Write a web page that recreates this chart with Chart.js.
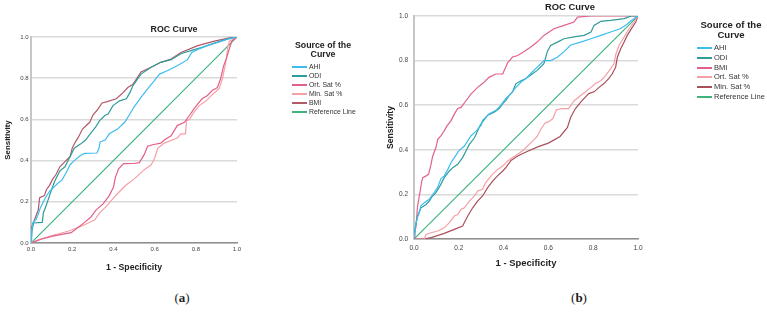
<!DOCTYPE html>
<html>
<head>
<meta charset="utf-8">
<script src="https://cdn.jsdelivr.net/npm/chart.js@4.4.1/dist/chart.umd.min.js"></script>
<style>
  body { margin: 0; background: #fff; }
  #page { position: relative; width: 767px; height: 322px; overflow: hidden; font-family: "Liberation Sans", Arial, sans-serif; color: #222; }
  canvas { position: absolute; top: 0; }
  .txt { position: absolute; white-space: nowrap; line-height: 10px; }
  .ctr { transform: translateX(-50%); text-align: center; }
  .swatch { position: absolute; height: 2px; width: 15px; }
  .cap { position: absolute; font-family: "Liberation Serif", "DejaVu Serif", serif; font-size: 13px; line-height: 14px; transform: translate(-50%, -50%); }
</style>
</head>
<body>
<div id="page">
  <canvas id="rocA" width="245" height="280" style="left:0"></canvas>
  <canvas id="rocB" width="268" height="277" style="left:380px"></canvas>
  <div class="txt ctr" style="left:174px; top:24px; font-weight:bold; font-size:8.8px">ROC Curve</div>
  <div class="txt ctr" style="left:570px; top:2px; font-weight:bold; font-size:9.4px">ROC Curve</div>
  <div class="cap" style="left:182px; top:298px">(<b>a</b>)</div>
  <div class="cap" style="left:579px; top:298px">(<b>b</b>)</div>
</div>
<script>
// tick labels on both axes
const tickValues = [0, 0.2, 0.4, 0.6, 0.8, 1.0];

// (a) series, in legend order
const namesA = ['AHI', 'ODI', 'Ort. Sat %', 'Min. Sat %', 'BMI', 'Reference Line'];
const colorsA = ['#3ebcf0', '#2e9c98', '#e3608a', '#f5a0a6', '#b3596a', '#3fb47f'];
const ahiA = [[0,0],[0.003,0.06],[0.01,0.1],[0.025,0.115],[0.035,0.14],[0.045,0.17],[0.06,0.2],[0.07,0.22],[0.09,0.25],[0.11,0.27],[0.13,0.29],[0.15,0.305],[0.17,0.34],[0.19,0.38],[0.21,0.4],[0.24,0.425],[0.26,0.435],[0.32,0.437],[0.33,0.46],[0.335,0.49],[0.36,0.5],[0.38,0.53],[0.42,0.553],[0.455,0.586],[0.48,0.626],[0.5,0.66],[0.534,0.707],[0.566,0.748],[0.6,0.79],[0.624,0.82],[0.664,0.837],[0.71,0.86],[0.76,0.89],[0.78,0.925],[0.81,0.94],[0.857,0.958],[0.906,0.974],[0.955,0.99],[1,1]];
const odiA = [[0,0],[0.005,0.06],[0.012,0.097],[0.055,0.1],[0.06,0.146],[0.075,0.186],[0.09,0.23],[0.1,0.26],[0.115,0.3],[0.14,0.35],[0.165,0.37],[0.18,0.4],[0.195,0.43],[0.21,0.46],[0.24,0.48],[0.265,0.5],[0.28,0.52],[0.3,0.545],[0.315,0.565],[0.333,0.594],[0.36,0.62],[0.374,0.626],[0.398,0.667],[0.43,0.69],[0.463,0.7],[0.48,0.73],[0.495,0.764],[0.534,0.82],[0.583,0.853],[0.63,0.877],[0.68,0.89],[0.73,0.92],[0.78,0.935],[0.83,0.95],[0.89,0.97],[0.95,0.99],[1,1]];
const ortA = [[0,0],[0.05,0.018],[0.1,0.032],[0.15,0.042],[0.195,0.05],[0.225,0.073],[0.26,0.1],[0.29,0.125],[0.315,0.16],[0.35,0.19],[0.38,0.23],[0.4,0.27],[0.41,0.32],[0.425,0.36],[0.45,0.385],[0.5,0.386],[0.526,0.39],[0.55,0.43],[0.566,0.47],[0.59,0.477],[0.63,0.485],[0.647,0.5],[0.68,0.52],[0.71,0.57],[0.745,0.586],[0.77,0.62],[0.79,0.65],[0.81,0.675],[0.83,0.7],[0.855,0.715],[0.88,0.74],[0.905,0.755],[0.92,0.796],[0.935,0.86],[0.95,0.9],[0.965,0.95],[0.975,0.98],[1,1]];
const minA = [[0,0],[0.034,0.016],[0.115,0.04],[0.18,0.057],[0.244,0.081],[0.31,0.113],[0.333,0.146],[0.366,0.178],[0.4,0.218],[0.43,0.25],[0.463,0.283],[0.5,0.31],[0.55,0.356],[0.583,0.38],[0.6,0.41],[0.615,0.46],[0.647,0.485],[0.71,0.51],[0.728,0.53],[0.75,0.53],[0.755,0.594],[0.77,0.6],[0.79,0.634],[0.817,0.667],[0.85,0.69],[0.88,0.72],[0.914,0.75],[0.93,0.8],[0.947,0.885],[0.955,0.95],[0.963,0.98],[1,1]];
const bmiA = [[0,0],[0.002,0.075],[0.012,0.1],[0.02,0.12],[0.035,0.16],[0.042,0.22],[0.065,0.23],[0.075,0.26],[0.09,0.28],[0.105,0.31],[0.12,0.33],[0.14,0.37],[0.165,0.395],[0.19,0.42],[0.2,0.46],[0.215,0.49],[0.228,0.51],[0.25,0.553],[0.285,0.586],[0.3,0.62],[0.325,0.65],[0.345,0.68],[0.366,0.685],[0.414,0.7],[0.447,0.73],[0.47,0.755],[0.495,0.77],[0.534,0.83],[0.583,0.853],[0.63,0.877],[0.68,0.893],[0.728,0.925],[0.81,0.958],[0.89,0.98],[0.97,0.997],[1,1]];
const refLine = [[0,0],[1,1]];

// (b) series, in legend order
const namesB = ['AHI', 'ODI', 'BMI', 'Ort. Sat %', 'Min. Sat %', 'Reference Line'];
const colorsB = ['#3ebcf0', '#2e9c98', '#e3608a', '#f5a0a6', '#a9505c', '#3fb47f'];
const ahiB = [[0,0],[0.005,0.04],[0.009,0.07],[0.016,0.1],[0.024,0.118],[0.03,0.148],[0.046,0.163],[0.068,0.178],[0.09,0.208],[0.105,0.23],[0.12,0.27],[0.135,0.283],[0.15,0.31],[0.165,0.342],[0.18,0.365],[0.2,0.395],[0.225,0.417],[0.24,0.44],[0.254,0.462],[0.277,0.484],[0.3,0.51],[0.306,0.532],[0.336,0.562],[0.366,0.577],[0.388,0.6],[0.41,0.63],[0.433,0.652],[0.455,0.68],[0.478,0.704],[0.5,0.72],[0.52,0.741],[0.55,0.771],[0.565,0.785],[0.58,0.8],[0.61,0.8],[0.64,0.815],[0.67,0.84],[0.7,0.87],[0.744,0.883],[0.79,0.898],[0.834,0.913],[0.878,0.928],[0.92,0.943],[0.945,0.958],[0.97,0.98],[1,1]];
const odiB = [[0,0],[0.005,0.05],[0.016,0.103],[0.031,0.14],[0.054,0.155],[0.068,0.17],[0.083,0.193],[0.098,0.208],[0.12,0.245],[0.135,0.275],[0.158,0.305],[0.173,0.32],[0.195,0.335],[0.217,0.365],[0.232,0.395],[0.247,0.424],[0.27,0.454],[0.284,0.484],[0.295,0.51],[0.306,0.525],[0.329,0.555],[0.36,0.57],[0.38,0.585],[0.396,0.607],[0.41,0.622],[0.425,0.644],[0.44,0.66],[0.455,0.697],[0.478,0.71],[0.5,0.72],[0.52,0.734],[0.55,0.756],[0.58,0.786],[0.595,0.84],[0.61,0.868],[0.64,0.883],[0.67,0.898],[0.714,0.906],[0.76,0.913],[0.79,0.928],[0.804,0.958],[0.834,0.976],[0.878,0.98],[0.938,0.988],[0.97,1],[1,1]];
const bmiB = [[0,0],[0.004,0.03],[0.009,0.058],[0.016,0.148],[0.025,0.2],[0.035,0.26],[0.039,0.275],[0.054,0.283],[0.065,0.29],[0.076,0.335],[0.083,0.37],[0.098,0.41],[0.106,0.447],[0.12,0.462],[0.135,0.485],[0.147,0.507],[0.165,0.53],[0.18,0.56],[0.195,0.585],[0.21,0.59],[0.232,0.62],[0.254,0.65],[0.284,0.68],[0.306,0.697],[0.336,0.726],[0.366,0.74],[0.396,0.74],[0.418,0.79],[0.44,0.816],[0.463,0.823],[0.49,0.84],[0.52,0.86],[0.55,0.883],[0.58,0.913],[0.625,0.943],[0.67,0.958],[0.714,0.973],[0.73,0.995],[0.79,1],[1,1]];
const ortB = [[0,0],[0.046,0],[0.054,0.02],[0.076,0.028],[0.106,0.036],[0.135,0.05],[0.158,0.073],[0.18,0.103],[0.195,0.11],[0.21,0.133],[0.225,0.14],[0.247,0.17],[0.27,0.193],[0.284,0.215],[0.306,0.223],[0.32,0.253],[0.344,0.283],[0.373,0.312],[0.396,0.327],[0.418,0.35],[0.44,0.365],[0.463,0.38],[0.49,0.4],[0.52,0.43],[0.55,0.46],[0.565,0.49],[0.585,0.52],[0.6,0.525],[0.62,0.54],[0.635,0.578],[0.66,0.585],[0.69,0.585],[0.715,0.62],[0.74,0.64],[0.766,0.66],[0.79,0.68],[0.81,0.697],[0.834,0.71],[0.856,0.734],[0.878,0.764],[0.893,0.786],[0.9,0.824],[0.915,0.868],[0.938,0.906],[0.96,0.943],[0.982,0.973],[1,1]];
const minB = [[0,0],[0.046,0],[0.08,0.007],[0.135,0.025],[0.18,0.043],[0.217,0.058],[0.24,0.103],[0.262,0.14],[0.284,0.17],[0.306,0.193],[0.329,0.23],[0.351,0.26],[0.373,0.283],[0.396,0.305],[0.41,0.32],[0.433,0.352],[0.463,0.372],[0.5,0.39],[0.555,0.414],[0.6,0.43],[0.652,0.46],[0.685,0.5],[0.7,0.547],[0.72,0.584],[0.744,0.614],[0.766,0.637],[0.78,0.652],[0.804,0.66],[0.826,0.68],[0.848,0.697],[0.87,0.72],[0.885,0.741],[0.9,0.77],[0.908,0.816],[0.923,0.853],[0.938,0.883],[0.952,0.913],[0.975,0.95],[0.99,0.973],[1,1]];

Chart.defaults.font.family = '"Liberation Sans", Arial, sans-serif';

function setTicks(scale) {
    scale.ticks = tickValues.map(function (v) { return {value: v}; });
}

function rocChart(canvasId, names, colors, series, fs, box) {
    var datasets = series.map(function (pts, i) {
        return {
            label: names[i],
            data: pts.map(function (p) { return {x: p[0], y: p[1]}; }),
            borderColor: colors[i],
            borderWidth: 1.2,
            showLine: true,
            pointRadius: 0,
            tension: 0
        };
    });
    return new Chart(document.getElementById(canvasId), {
        type: 'scatter',
        data: {datasets: datasets},
        options: {
            responsive: false,
            animation: false,
            events: [],
            layout: {padding: box.padding},
            plugins: {legend: {display: false}, title: {display: false}, tooltip: {enabled: false}},
            scales: {
                x: {
                    type: 'linear', min: 0, max: 1,
                    afterBuildTicks: setTicks,
                    afterFit: function (s) { s.height = box.xHeight; },
                    grid: {display: false, drawTicks: false},
                    border: {color: '#8f8f8f', width: 1.5},
                    ticks: {font: {size: 6 * fs}, color: '#444', padding: box.xTickPad, maxRotation: 0,
                        callback: function (v) { return v.toFixed(1); }},
                    title: {display: true, text: '1 - Specificity', color: '#222',
                        font: {size: 8.7 * fs, weight: 'bold'}, padding: {top: 0, bottom: box.xTitlePad}}
                },
                y: {
                    type: 'linear', min: 0, max: 1,
                    afterBuildTicks: setTicks,
                    afterFit: function (s) { s.width = box.yWidth; },
                    grid: {color: '#dadada', lineWidth: 1.5, drawTicks: false},
                    border: {color: '#c6c6c6', width: 2},
                    ticks: {font: {size: 6 * fs}, color: '#444', padding: box.yTickPad,
                        callback: function (v) { return v.toFixed(1); }},
                    title: {display: true, text: 'Sensitivity', color: '#222',
                        font: {size: 7.9 * fs, weight: 'bold'}, padding: {top: box.yTitlePad, bottom: 0}}
                }
            }
        }
    });
}

function addLegend(names, colors, fs, lg) {
    var page = document.getElementById('page');
    ['Source of the', 'Curve'].forEach(function (t, i) {
        var d = document.createElement('div');
        d.className = 'txt ctr';
        d.textContent = t;
        d.style.left = lg.titleX + 'px';
        d.style.top = (lg.titleY + i * 9 * fs - 5) + 'px';
        d.style.fontWeight = 'bold';
        d.style.fontSize = (8.8 * fs) + 'px';
        page.appendChild(d);
    });
    names.forEach(function (name, i) {
        var y = Math.round(lg.itemY + i * lg.step);
        var line = document.createElement('div');
        line.className = 'swatch';
        line.style.left = lg.lineX + 'px';
        line.style.top = (y - 1) + 'px';
        line.style.background = colors[i];
        page.appendChild(line);
        var d = document.createElement('div');
        d.className = 'txt';
        d.textContent = name;
        d.style.left = (lg.lineX + 17) + 'px';
        d.style.top = (y - 5) + 'px';
        d.style.fontSize = (6.9 * fs) + 'px';
        d.style.color = '#333';
        page.appendChild(d);
    });
}

rocChart('rocA', namesA, colorsA, [ahiA, odiA, ortA, minA, bmiA, refLine], 1,
    {padding: {left: 0, top: 37, right: 8, bottom: 0}, yWidth: 31, xHeight: 37,
     yTickPad: 2.5, xTickPad: 3, yTitlePad: 3, xTitlePad: 7.5});
rocChart('rocB', namesB, colorsB, [ahiB, odiB, bmiB, ortB, minB, refLine], 1.087,
    {padding: {left: 0, top: 16, right: 10, bottom: 0}, yWidth: 34, xHeight: 38,
     yTickPad: 6, xTickPad: 5, yTitlePad: 5, xTitlePad: 7.5});

addLegend(namesA, colorsA, 1, {titleX: 323, titleY: 45, lineX: 292, itemY: 67, step: 9});
addLegend(namesB, colorsB, 1.087, {titleX: 731, titleY: 25, lineX: 697, itemY: 48, step: 9.8});
</script>
</body>
</html>
